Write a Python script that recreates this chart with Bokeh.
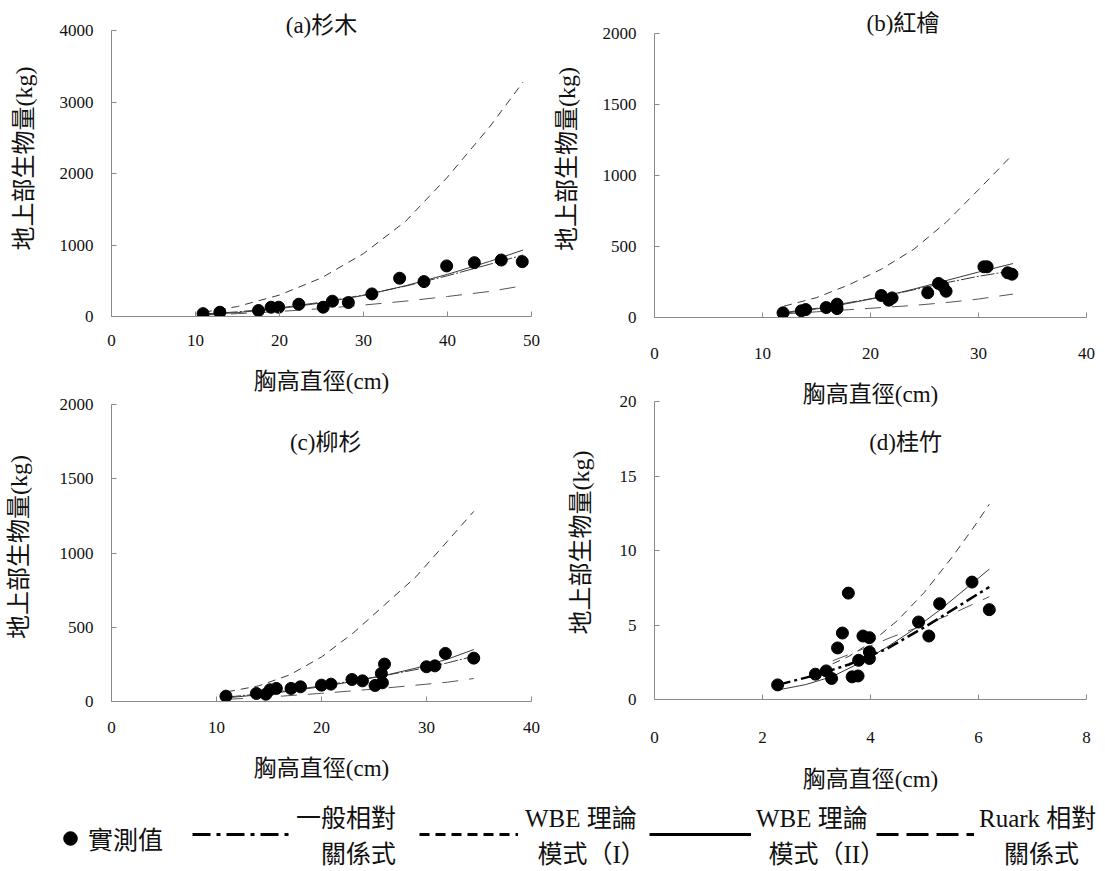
from bokeh.plotting import figure
from bokeh.layouts import row, column
from bokeh.models import Range1d, FixedTicker, Label, Legend, LegendItem, ColumnDataSource
from bokeh.embed import file_html
from bokeh.resources import INLINE

# ---------------- data ----------------
# (a) 杉木
a_dbh = [10.9, 12.9, 17.5, 19.0, 19.9, 22.3, 25.2, 26.3, 28.2, 31.0, 34.3, 37.2, 39.9, 43.2, 46.4, 48.9]
a_bio = [40, 60, 84, 130, 130, 172, 130, 214, 195, 316, 535, 488, 707, 753, 790, 767]
a_line_d = [11, 15, 20, 25, 30, 35, 40, 45, 49]
a_general = [35, 65, 120, 200, 300, 425, 570, 730, 860]
a_wbe1 = [60, 140, 300, 540, 880, 1330, 1950, 2650, 3280]
a_wbe2 = [25, 55, 110, 190, 295, 430, 590, 770, 930]
a_ruark = [20, 40, 70, 110, 160, 215, 280, 350, 430]

# (b) 紅檜
b_dbh = [11.9, 13.6, 14.0, 15.9, 16.9, 16.9, 21.0, 21.7, 22.0, 25.3, 26.3, 26.7, 27.0, 30.5, 30.8, 32.7, 33.1]
b_bio = [33, 47, 56, 70, 94, 63, 155, 122, 138, 174, 240, 221, 185, 357, 357, 315, 305]
b_line_d = [12, 15, 18, 21, 24, 27, 30, 33.2]
b_general = [35, 65, 105, 145, 195, 245, 290, 330]
b_wbe1 = [80, 140, 230, 340, 480, 670, 900, 1150]
b_wbe2 = [30, 60, 100, 145, 200, 260, 320, 380]
b_ruark = [25, 40, 55, 70, 85, 105, 130, 165]

# (c) 柳杉
c_dbh = [10.9, 13.8, 14.7, 15.1, 15.7, 17.1, 18.0, 20.0, 20.9, 22.9, 23.9, 25.1, 25.7, 25.8, 26.0, 30.0, 30.8, 31.8, 34.5]
c_bio = [36, 54, 49, 79, 88, 88, 99, 110, 117, 148, 139, 108, 189, 126, 252, 234, 240, 324, 292]
c_line_d = [11, 14, 17, 20, 23, 26, 29, 32, 34.5]
c_general = [30, 50, 75, 105, 140, 175, 215, 260, 305]
c_wbe1 = [65, 105, 180, 300, 460, 650, 840, 1080, 1280]
c_wbe2 = [25, 45, 70, 100, 135, 175, 225, 285, 350]
c_ruark = [15, 25, 40, 55, 72, 90, 110, 130, 155]

# (d) 桂竹
d_dbh = [2.28, 2.98, 3.18, 3.28, 3.39, 3.48, 3.59, 3.66, 3.77, 3.78, 3.86, 3.98, 3.98, 3.98, 4.89, 5.08, 5.28, 5.88, 6.20]
d_bio = [0.98, 1.70, 1.92, 1.41, 3.46, 4.46, 7.14, 1.52, 1.58, 2.63, 4.26, 4.15, 3.19, 2.75, 5.20, 4.26, 6.43, 7.88, 6.03]
d_general_d = [2.3, 3.0, 3.6, 4.3, 5.0, 5.6, 6.2]
d_general = [1.0, 1.65, 2.35, 3.4, 4.85, 6.2, 7.55]
d_wbe1_d = [3.3, 3.6, 4.0, 4.5, 5.0, 5.5, 5.9, 6.2]
d_wbe1 = [2.4, 2.9, 3.8, 5.3, 7.2, 9.5, 11.5, 13.1]
d_wbe2_d = [2.3, 2.8, 3.3, 3.8, 4.3, 4.8, 5.3, 5.8, 6.2]
d_wbe2 = [0.65, 1.0, 1.55, 2.45, 3.5, 4.7, 6.05, 7.55, 8.75]
d_ruark_d = [3.3, 3.8, 4.4, 5.0, 5.6, 6.2]
d_ruark = [2.6, 3.3, 4.2, 5.0, 5.9, 6.9]

titles = ["(a)杉木", "(b)紅檜", "(c)柳杉", "(d)桂竹"]
x_label = "胸高直徑(cm)"
y_label = "地上部生物量(kg)"
legend_labels = ["實測值", "一般相對\n\u3000關係式", "WBE 理論\n\u2002模式（I）",
                 "WBE 理論\n\u2002模式（II）", "Ruark 相對\n\u3000關係式"]

# ---------------- styling ----------------
FONT = "'Liberation Serif', 'Noto Sans CJK TC'"
AXC = "#8a8a8a"
LC = "#3a3a3a"


def panel(width, height, borders, head, xmax, xticks, ymax, yticks,
          x_std, x_lab_std, y_std, y_lab_std, title, tx, ty):
    l, r, t, b = borders
    fh = height - t - b                      # frame height in px
    yend = ymax * fh / (fh - head)           # leave head-room above the top tick
    p = figure(width=width, height=height, x_range=Range1d(0, xmax), y_range=Range1d(0, yend),
               output_backend="svg", toolbar_location=None,
               min_border_left=l, min_border_right=r, min_border_top=t, min_border_bottom=b)
    p.grid.visible = False
    p.outline_line_color = None
    p.background_fill_alpha = 0
    p.border_fill_alpha = 0
    p.yaxis.bounds = (0, ymax)
    for ax, ticks in ((p.xaxis[0], xticks), (p.yaxis[0], yticks)):
        ax.ticker = FixedTicker(ticks=ticks)
        ax.axis_line_color = AXC
        ax.major_tick_line_color = AXC
        ax.major_tick_in = 5
        ax.major_tick_out = 0
        ax.minor_tick_line_color = None
        ax.major_label_text_font = FONT
        ax.major_label_text_font_size = "17px"
        ax.major_label_text_color = "#111111"
        ax.axis_label_text_font = FONT
        ax.axis_label_text_font_style = "normal"
        ax.axis_label_text_color = "#111111"
    p.xaxis.axis_label = x_label
    p.xaxis.axis_label_text_font_size = "23px"
    p.xaxis.major_label_standoff = x_std
    p.xaxis.axis_label_standoff = x_lab_std
    p.yaxis.axis_label = y_label
    p.yaxis.axis_label_text_font_size = "24px"
    p.yaxis.major_label_standoff = y_std
    p.yaxis.axis_label_standoff = y_lab_std
    p.add_layout(Label(x=tx, y=ty, text=title, text_align="center", text_baseline="middle",
                       text_font=FONT, text_font_size="23px", text_color="#111111"))
    return p


def draw(p, dbh, bio, gen_d, gen, w1_d, w1, w2_d, w2, ru_d, ru, thick_general=False):
    p.line(w1_d, w1, line_color=LC, line_width=1, line_dash="8 6")
    p.line(ru_d, ru, line_color="#555555", line_width=1, line_dash="16 11")
    p.line(w2_d, w2, line_color=LC, line_width=1)
    if thick_general:
        p.line(gen_d, gen, line_color="black", line_width=2.5, line_dash="12 4 3 4")
    else:
        p.line(gen_d, gen, line_color=LC, line_width=1, line_dash="14 2 2 2")
    p.scatter(dbh, bio, size=12, color="black")


fa = panel(550, 400, (111, 17, 0, 84), 30, 50, [0, 10, 20, 30, 40, 50], 4000, [0, 1000, 2000, 3000, 4000],
           18, 20, 18, 20, titles[0], 25, 4070)
draw(fa, a_dbh, a_bio, a_line_d, a_general, a_line_d, a_wbe1, a_line_d, a_wbe2, a_line_d, a_ruark)

fc = panel(550, 393, (106, 19, 0, 84), 12, 40, [0, 10, 20, 30, 40], 2000, [0, 500, 1000, 1500, 2000],
           20, 20, 18, 25, titles[2], 20.4, 1744)
draw(fc, c_dbh, c_bio, c_line_d, c_general, c_line_d, c_wbe1, c_line_d, c_wbe2, c_line_d, c_ruark)
fc.styles = {"margin-top": "-8px"}

fb = panel(555, 415, (104, 18, 0, 98), 33, 40, [0, 10, 20, 30, 40], 2000, [0, 500, 1000, 1500, 2000],
           30, 20, 18, 20, titles[1], 23.0, 2070)
draw(fb, b_dbh, b_bio, b_line_d, b_general, b_line_d, b_wbe1, b_line_d, b_wbe2, b_line_d, b_ruark)

fd = panel(555, 412, (104, 19, 0, 98), 16, 8, [0, 2, 4, 6, 8], 20, [0, 5, 10, 15, 20],
           32, 21, 18, 23, titles[3], 4.65, 17.25)
draw(fd, d_dbh, d_bio, d_general_d, d_general, d_wbe1_d, d_wbe1, d_wbe2_d, d_wbe2, d_ruark_d, d_ruark,
     thick_general=True)
fd.styles = {"margin-top": "-30px"}

# ---------------- legend strip ----------------
lf = figure(width=1105, height=80, x_range=Range1d(0, 1), y_range=Range1d(0, 1),
            output_backend="svg", toolbar_location=None, min_border=0,
            x_axis_location=None, y_axis_location=None)
lf.grid.visible = False
lf.outline_line_color = None
lf.background_fill_alpha = 0
lf.border_fill_alpha = 0
lf.styles = {"margin-top": "-6px"}
nan = float("nan")
keysrc = ColumnDataSource(data=dict(x=[nan], y=[nan]))
r_obs = lf.scatter("x", "y", source=keysrc, size=17, color="black")
r_gen = lf.line("x", "y", source=keysrc, line_color="black", line_width=3, line_dash="18 6 4 6")
r_w1 = lf.line("x", "y", source=keysrc, line_color="black", line_width=3, line_dash="10 6")
r_w2 = lf.line("x", "y", source=keysrc, line_color="black", line_width=3)
r_ru = lf.line("x", "y", source=keysrc, line_color="black", line_width=3, line_dash="22 8")

leg_specs = [
    (r_obs, legend_labels[0], (53, 15), 34, 34, 1),
    (r_gen, legend_labels[1], (192, 1), 98, 20, 6),
    (r_w1, legend_labels[2], (419, 1), 99, 20, 7),
    (r_w2, legend_labels[3], (649, 1), 102, 20, 5),
    (r_ru, legend_labels[4], (876, 1), 98, 20, 5),
]
for rend, lab, loc, gw, gh, so in leg_specs:
    lg = Legend(items=[LegendItem(label=lab, renderers=[rend])], location=loc,
                glyph_width=gw, glyph_height=gh, label_standoff=so, padding=0, margin=0, spacing=0,
                border_line_alpha=0, background_fill_alpha=0,
                label_text_font=FONT, label_text_font_size="25px", label_text_color="#111111")
    lf.add_layout(lg)

layout = column(row(column(fa, fc), column(fb, fd)), lf)
open("out.html", "w").write(file_html(layout, INLINE))
